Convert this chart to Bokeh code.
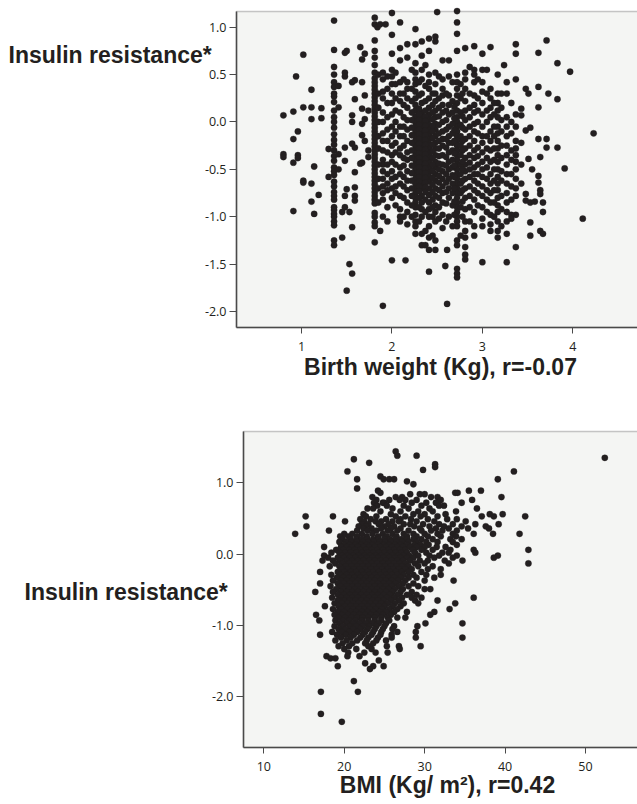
from bokeh.plotting import figure
from bokeh.models import (Range1d, FixedTicker, NumeralTickFormatter, Label, BoxAnnotation)
from bokeh.embed import file_html
from bokeh.resources import INLINE

# ---------------- data: top panel (birth weight columns, kg) ----------------
bw_cols = [0.80, 0.91, 0.94, 0.96, 1.02, 1.11, 1.14, 1.19, 1.22, 1.30,
           1.36, 1.41, 1.45, 1.48, 1.50, 1.53, 1.56, 1.59, 1.65, 1.67,
           1.70, 1.74, 1.81, 1.84, 1.87, 1.90, 1.93, 2.00, 2.09, 2.15,
           2.17, 2.26, 2.33, 2.41, 2.48, 2.50, 2.56, 2.59, 2.61, 2.63,
           2.72, 2.81, 2.91, 3.00, 3.09, 3.17, 3.24, 3.27, 3.37, 3.43,
           3.48, 3.51, 3.53, 3.55, 3.58, 3.62, 3.64, 3.67, 3.71, 3.73,
           3.83, 3.91, 3.97, 4.11, 4.23]
ir_cols = [
    [0.07, -0.34, -0.37],
    [0.11, -0.18, -0.43, -0.94],
    [0.48],
    [-0.10, -0.35, -0.38],
    [0.71, 0.155, -0.62, -0.64],
    [0.34, 0.155, 0.03, -0.65, -0.84],
    [-0.47, -0.97],
    [-0.77],
    [0.145, 0.04],
    [-0.285, -0.58],
    [1.07, 0.76, 0.58, 0.50, 0.42, 0.37, 0.30, 0.27, 0.21, 0.12, 0.05, 0.0, -0.06, -0.13, -0.19, -0.24,
     -0.30, -0.36, -0.41, -0.48, -0.52, -0.56, -0.63, -0.68, -0.74, -0.78, -0.82, -0.90, -0.93, -0.97,
     -1.00, -1.05, -1.09, -1.25, -1.30],
    [0.38, 0.155, -0.34, -0.50],
    [-0.95, -1.22],
    [0.73, 0.52, 0.48, -0.27, -0.41, -0.78, -0.90],
    [0.75, -0.71, -1.78],
    [-1.50, -0.95],
    [0.42, 0.07, 0.0, -0.23, -1.11, -1.60],
    [0.44, 0.24, -0.27, -0.53, -0.69, -0.78, -0.83],
    [0.79, -0.44],
    [0.66, 0.42, 0.14, -0.02, -0.14, -0.43],
    [0.72, 0.28, 0.03, -0.20],
    [-0.30, -0.37, 0.12],
    [1.10, 1.03, 0.86, 0.75, 0.68, 0.60, 0.52, 0.46, 0.42, 0.38, 0.34, 0.30, 0.26, 0.22, 0.18, 0.14,
     0.10, 0.06, 0.02, -0.02, -0.06, -0.10, -0.14, -0.18, -0.22, -0.26, -0.30, -0.34, -0.38, -0.42,
     -0.46, -0.50, -0.54, -0.58, -0.62, -0.66, -0.70, -0.74, -0.78, -0.82, -0.86, -0.96, -1.00, -1.06,
     -1.10, -1.27],
    [1.00],
    [1.03, -1.15],
    [0.52, 0.45, 0.32, 0.25, 0.10, 0.0, -0.12, -0.20, -0.30, -0.40, -0.45, -0.52, -0.60, -0.68, -0.75,
     -0.82, -1.00, -1.94],
    [1.03],
    [1.15, 0.92, 0.72, 0.55, 0.48, 0.40, 0.30, 0.20, 0.08, -0.05, -0.15, -0.25, -0.35, -0.42, -0.52,
     -0.60, -0.70, -0.80, -1.46],
    [1.05, 0.78, 0.65, 0.42, 0.30, 0.22, 0.10, -0.05, -0.15, -0.28, -0.35, -0.48, -0.55, -0.65, -0.78,
     -0.92, -1.00, -1.05],
    [-1.46],
    [0.82, 0.68, 0.42, 0.35, 0.25, 0.15, 0.02, -0.08, -0.20, -0.32, -0.40, -0.52, -0.62, -0.72, -0.85,
     -0.95, -1.08],
    [0.98, 0.82, 0.62, 0.52, 0.45, 0.40, 0.32, 0.25, 0.18, 0.12, 0.06, 0.0, -0.05, -0.10, -0.15, -0.20,
     -0.25, -0.30, -0.35, -0.40, -0.45, -0.50, -0.55, -0.60, -0.65, -0.70, -0.75, -0.80, -0.85, -0.90,
     -0.98, -1.05, -1.10, -1.18],
    [0.85, 0.70, 0.55, 0.45, 0.30, 0.20, 0.10, 0.05, 0.0, -0.05, -0.10, -0.15, -0.20, -0.25, -0.30,
     -0.35, -0.40, -0.45, -0.50, -0.55, -0.60, -0.65, -0.70, -0.78, -0.85, -0.92, -1.00, -1.18, -1.30],
    [0.88, 0.75, 0.50, 0.42, 0.35, 0.25, 0.15, 0.08, 0.03, -0.03, -0.08, -0.13, -0.18, -0.23, -0.28,
     -0.33, -0.38, -0.43, -0.48, -0.53, -0.58, -0.63, -0.70, -0.77, -0.85, -0.92, -1.00, -1.10, -1.22,
     -1.35, -1.58],
    [0.90, 0.85, 0.52, 0.40, 0.30, 0.22, 0.12, 0.05, -0.02, -0.08, -0.15, -0.22, -0.28, -0.35, -0.42,
     -0.48, -0.55, -0.62, -0.70, -0.78, -0.88, -0.95, -1.05, -1.25, -1.35],
    [1.16],
    [0.65, 0.45, 0.35, 0.28, 0.18, 0.10, 0.0, -0.10, -0.18, -0.25, -0.35, -0.45, -0.52, -0.60, -0.68,
     -0.75, -0.85, -0.98, -1.12],
    [-1.52],
    [-1.92, -1.35],
    [0.65, 0.48, 0.28, 0.18, 0.08, -0.05, -0.15, -0.22, -0.32, -0.42, -0.50, -0.60, -0.70, -0.80, -1.00],
    [1.17, 1.05, 0.93, 0.75, 0.50, 0.42, 0.35, 0.28, 0.20, 0.12, 0.05, 0.0, -0.05, -0.10, -0.15, -0.20,
     -0.25, -0.30, -0.35, -0.40, -0.45, -0.50, -0.55, -0.60, -0.65, -0.70, -0.75, -0.80, -0.85, -0.90,
     -0.95, -1.00, -1.05, -1.10, -1.25, -1.30, -1.55, -1.60, -1.64],
    [0.78, 0.52, 0.45, 0.35, 0.22, 0.12, 0.02, -0.08, -0.18, -0.28, -0.38, -0.45, -0.52, -0.60, -0.70,
     -0.80, -0.92, -1.05, -1.15, -1.22, -1.32, -1.40, -1.45],
    [0.80, 0.55, 0.50, 0.42, 0.28, 0.18, 0.10, -0.02, -0.10, -0.20, -0.30, -0.38, -0.48, -0.55, -0.62,
     -0.72, -0.82, -0.95, -1.10, -1.20],
    [0.72, 0.55, 0.42, 0.32, 0.20, 0.08, -0.05, -0.15, -0.22, -0.32, -0.42, -0.50, -0.58, -0.68, -0.78,
     -0.90, -1.02, -1.10, -1.48],
    [0.79, 0.35, 0.25, 0.15, 0.05, -0.10, -0.20, -0.30, -0.42, -0.55, -0.65, -0.75, -0.85, -0.98, -1.08,
     -1.15],
    [0.50, 0.30, 0.20, 0.12, 0.05, -0.05, -0.12, -0.20, -0.28, -0.35, -0.42, -0.50, -0.58, -0.65, -0.72,
     -0.80, -0.88, -0.95, -1.05, -1.15, -1.22],
    [0.60],
    [0.42, 0.30, 0.05, -0.05, -0.15, -0.25, -0.35, -0.45, -0.55, -0.65, -0.75, -0.85, -0.95, -1.05, -1.18,
     -1.48],
    [0.82, 0.72, 0.45, 0.08, -0.05, -0.20, -0.28, -0.35, -0.42, -0.50, -0.60, -0.70, -0.78, -0.98, -1.32],
    [0.14, 0.07, -0.22, -0.45, -0.65],
    [0.35, -0.09, -0.76, -0.83],
    [0.30, -0.39],
    [-0.06, -0.85, -1.06, -1.20],
    [-0.50],
    [-0.84],
    [0.73, 0.37, 0.155, -0.18, -0.57, -0.64],
    [-0.37, -0.72, -0.76, -1.15],
    [-0.85, -0.95, -1.18],
    [0.86, -0.18, -0.27],
    [0.30],
    [0.62, 0.24, -0.27],
    [-0.49],
    [0.53],
    [-1.02],
    [-0.12],
]

# intermediate birth weights filling the dense core
bw_cols_mid = [1.85, 1.95, 2.04, 2.13, 2.22, 2.30, 2.37, 2.45, 2.52, 2.60,
               2.67, 2.76, 2.86, 2.95, 3.05, 3.13, 3.21, 3.32, 2.69, 2.78]
ir_cols_mid = [
    [0.50, 0.30, 0.15, 0.0, -0.15, -0.28, -0.45, -0.60, -0.70, -0.85],
    [0.48, 0.35, 0.20, 0.05, -0.08, -0.20, -0.32, -0.45, -0.55, -0.65, -0.72, -0.90, -1.05],
    [0.52, 0.40, 0.25, 0.12, 0.0, -0.10, -0.22, -0.32, -0.45, -0.58, -0.68, -0.75, -0.88],
    [0.45, 0.30, 0.18, 0.05, -0.05, -0.15, -0.25, -0.38, -0.46, -0.58, -0.68, -0.80, -1.00],
    [0.55, 0.35, 0.22, 0.10, 0.02, -0.06, -0.14, -0.22, -0.30, -0.38, -0.46, -0.54, -0.62, -0.70, -0.78,
     -0.88, -1.00],
    [0.42, 0.28, 0.14, 0.08, 0.02, -0.03, -0.08, -0.13, -0.18, -0.23, -0.28, -0.33, -0.38, -0.43, -0.48,
     -0.53, -0.58, -0.63, -0.68, -0.73, -0.80, -0.90, -1.05],
    [0.60, 0.38, 0.22, 0.12, 0.06, 0.01, -0.04, -0.09, -0.14, -0.19, -0.24, -0.29, -0.34, -0.39, -0.44,
     -0.49, -0.54, -0.59, -0.64, -0.69, -0.74, -0.82, -0.95, -1.15, -1.30],
    [0.30, 0.18, 0.10, 0.03, -0.04, -0.10, -0.17, -0.24, -0.31, -0.38, -0.45, -0.52, -0.59, -0.66, -0.74,
     -0.82, -0.90, -1.00, -1.20],
    [0.48, 0.25, 0.15, 0.06, -0.03, -0.12, -0.20, -0.28, -0.36, -0.44, -0.50, -0.57, -0.64, -0.72, -0.80,
     -0.90, -1.02],
    [0.30, 0.12, 0.02, -0.08, -0.18, -0.27, -0.37, -0.46, -0.55, -0.64, -0.74, -0.86, -1.05],
    [0.42, 0.22, 0.10, -0.02, -0.12, -0.22, -0.30, -0.40, -0.48, -0.56, -0.65, -0.75, -0.88, -1.10],
    [0.40, 0.25, 0.10, -0.03, -0.15, -0.25, -0.35, -0.45, -0.55, -0.65, -0.75, -0.90, -1.20],
    [0.58, 0.30, 0.15, 0.05, -0.05, -0.15, -0.25, -0.35, -0.43, -0.50, -0.58, -0.68, -0.78, -0.90, -1.05],
    [0.45, 0.25, 0.12, 0.0, -0.12, -0.27, -0.36, -0.45, -0.55, -0.65, -0.75, -0.88],
    [0.55, 0.30, 0.12, 0.0, -0.15, -0.28, -0.38, -0.48, -0.60, -0.72, -0.82, -0.95],
    [0.20, 0.08, -0.05, -0.15, -0.28, -0.40, -0.50, -0.62, -0.72, -0.85, -1.00],
    [0.30, 0.15, 0.02, -0.10, -0.25, -0.38, -0.52, -0.62, -0.78, -0.92, -1.10],
    [0.20, 0.0, -0.12, -0.30, -0.40, -0.55, -0.68, -0.82, -0.98, -1.02],
    [0.16, 0.04, -0.08, -0.20, -0.33, -0.46, -0.58, -0.70, -0.84, -0.98],
    [0.30, 0.06, -0.06, -0.20, -0.30, -0.42, -0.50, -0.62, -0.72, -0.84, -1.00],
]

# ---------------- data: bottom panel (rows of BMI at given insulin resistance) ----------------
ir_rows = [1.44, 1.38, 1.35, 1.33, 1.28, 1.26, 1.22, 1.18, 1.16, 1.09, 1.05, 1.02, 0.98, 0.92, 0.89,
           0.86, 0.84, 0.80, 0.76, 0.72, 0.68, 0.64, 0.60, 0.56, 0.53, 0.49, 0.46, 0.42, 0.39, 0.36,
           0.33, 0.285, 0.25, 0.21, 0.17, 0.13, 0.10, 0.06, 0.02, -0.02, -0.05, -0.09, -0.13, -0.17,
           -0.21, -0.25, -0.29, -0.33, -0.37, -0.41, -0.45, -0.49, -0.53, -0.57, -0.61, -0.65, -0.69,
           -0.73, -0.77, -0.81, -0.85, -0.89, -0.93, -0.97, -1.01, -1.05, -1.09, -1.13, -1.17, -1.21,
           -1.25, -1.29, -1.33, -1.38, -1.43, -1.46, -1.49, -1.53, -1.57, -1.61, -1.78, -1.93, -2.24,
           -2.35]
bmi_rows = [
    [26.4],
    [26.6, 29.0],
    [52.4],
    [21.2],
    [23.1],
    [31.3],
    [31.3],
    [29.8],
    [20.4, 41.1],
    [24.5],
    [21.6, 24.9, 25.6, 26.2, 39.1],
    [27.8],
    [28.6],
    [21.6],
    [24.2, 35.5, 37.0],
    [24.5, 33.8, 34.1],
    [28.2, 29.4, 30.0],
    [23.5, 26.4, 27.2, 30.8, 31.6, 39.55],
    [24.0, 25.6, 26.9, 27.6, 29.0, 32.0, 35.9],
    [23.7, 24.8, 25.0, 28.4, 30.2, 31.4, 34.6],
    [24.1, 25.3, 27.4, 29.6, 31.8, 32.4],
    [22.9, 23.6, 26.0, 28.0, 30.6, 36.5],
    [24.5, 27.0, 29.2, 31.0, 33.9],
    [22.4, 25.8, 28.6, 30.0, 32.6, 38.1, 39.7],
    [15.2, 18.6, 22.7, 24.0, 26.4, 27.6, 29.5, 31.6, 37.1, 38.6, 42.5],
    [22.0, 23.3, 25.2, 27.0, 28.3, 30.4, 32.8, 34.0],
    [20.1, 22.5, 23.9, 24.6, 26.0, 26.8, 29.0, 31.2, 35.1],
    [22.2, 23.0, 24.3, 25.5, 27.4, 28.2, 29.8, 31.8, 33.5, 36.3, 39.2],
    [15.3, 21.8, 22.7, 25.0, 26.2, 28.7, 30.6, 32.4, 34.6, 37.6],
    [22.4, 23.4, 24.6, 25.8, 27.0, 29.4, 31.4, 33.0, 35.4, 38.0],
    [18.1, 21.6, 22.9, 24.0, 25.4, 26.6, 28.0, 29.6, 30.8, 32.2, 34.0],
    [13.9, 20.0, 21.0, 22.2, 23.5, 24.8, 26.0, 27.4, 28.6, 30.0, 31.6, 33.5, 36.1, 38.5, 41.8],
    [19.5, 20.5, 21.6, 22.8, 24.2, 25.3, 26.5, 27.8, 29.0, 30.4, 32.0, 33.9],
    [19.8, 20.8, 21.5, 22.2, 22.9, 23.6, 24.3, 25.0, 25.7, 26.4, 27.1, 27.8, 28.6, 29.6, 31.0, 33.2, 34.6],
    [19.4, 20.2, 20.9, 21.6, 22.3, 23.0, 23.7, 24.4, 25.1, 25.8, 26.5, 27.2, 28.0, 29.0, 30.2, 31.6, 33.5],
    [20.0, 20.7, 21.4, 22.1, 22.8, 23.5, 24.2, 24.9, 25.6, 26.3, 27.0, 27.8, 28.7, 29.5, 30.5, 34.0],
    [17.5, 19.6, 20.3, 21.0, 21.7, 22.4, 23.1, 23.8, 24.5, 25.2, 25.9, 26.6, 27.3, 28.2, 29.0, 30.0, 31.5,
     32.6],
    [19.0, 19.9, 20.6, 21.3, 22.0, 22.7, 23.4, 24.1, 24.8, 25.5, 26.2, 26.9, 27.6, 28.5, 29.6, 31.0, 33.2,
     36.1, 42.9],
    [18.4, 19.4, 20.1, 20.8, 21.5, 22.2, 22.9, 23.6, 24.3, 25.0, 25.7, 26.4, 27.1, 27.8, 28.8, 30.2, 32.2,
     33.0, 36.3],
    [17.5, 19.7, 20.4, 21.1, 21.8, 22.5, 23.2, 23.9, 24.6, 25.3, 26.0, 26.7, 27.4, 28.1, 29.2, 30.6, 31.8,
     34.0, 39.1],
    [18.0, 19.2, 20.0, 20.7, 21.4, 22.1, 22.8, 23.5, 24.2, 24.9, 25.6, 26.3, 27.0, 27.8, 28.6, 31.2, 33.5,
     38.6],
    [17.3, 18.6, 19.5, 20.3, 21.0, 21.7, 22.4, 23.1, 23.8, 24.5, 25.2, 25.9, 26.6, 27.3, 28.2, 29.4, 30.4,
     32.5, 34.7],
    [18.9, 19.8, 20.6, 21.3, 22.0, 22.7, 23.4, 24.1, 24.8, 25.5, 26.2, 26.9, 27.6, 28.8, 30.0, 33.0, 42.9],
    [18.2, 19.4, 20.2, 20.9, 21.6, 22.3, 23.0, 23.7, 24.4, 25.1, 25.8, 26.5, 27.2, 28.0, 29.2, 31.0],
    [19.7, 20.5, 21.2, 21.9, 22.6, 23.3, 24.0, 24.7, 25.4, 26.1, 26.8, 27.6, 28.4, 30.4, 32.0],
    [17.0, 19.2, 20.0, 20.8, 21.5, 22.2, 22.9, 23.6, 24.3, 25.0, 25.7, 26.4, 27.1, 28.0, 29.6],
    [18.4, 19.5, 20.3, 21.0, 21.7, 22.4, 23.1, 23.8, 24.5, 25.2, 25.9, 26.6, 27.4, 28.6, 30.2, 32.0],
    [19.1, 19.9, 20.6, 21.3, 22.0, 22.7, 23.4, 24.1, 24.8, 25.5, 26.2, 27.0, 28.0, 29.0, 31.2],
    [18.6, 19.6, 20.3, 21.0, 21.7, 22.4, 23.1, 23.8, 24.5, 25.2, 25.9, 26.7, 27.6, 30.0, 33.6],
    [17.0, 19.2, 20.0, 20.7, 21.4, 22.1, 22.8, 23.5, 24.2, 24.9, 25.6, 26.4, 27.3, 28.6],
    [18.3, 19.5, 20.3, 21.0, 21.7, 22.4, 23.1, 23.8, 24.5, 25.2, 25.9, 26.8, 28.0, 29.2],
    [19.0, 19.9, 20.6, 21.3, 22.0, 22.7, 23.4, 24.1, 24.8, 25.5, 26.3, 27.3, 30.0, 30.7],
    [16.4, 18.6, 19.6, 20.3, 21.0, 21.7, 22.4, 23.1, 23.8, 24.5, 25.2, 26.0, 27.0, 28.4],
    [19.2, 20.0, 20.7, 21.4, 22.1, 22.8, 23.5, 24.2, 24.9, 25.7, 26.6, 27.8, 29.0],
    [18.5, 19.6, 20.3, 21.0, 21.7, 22.4, 23.1, 23.8, 24.5, 25.3, 26.2, 27.2, 28.4, 29.6, 36.1],
    [19.2, 20.0, 20.7, 21.4, 22.1, 22.8, 23.5, 24.2, 24.9, 25.8, 26.8, 28.8, 31.6],
    [18.8, 19.7, 20.4, 21.1, 21.8, 22.5, 23.2, 23.9, 24.6, 25.4, 26.3, 27.4, 29.2, 33.8],
    [17.6, 19.3, 20.1, 20.8, 21.5, 22.2, 22.9, 23.6, 24.3, 25.0, 26.0, 27.0],
    [18.6, 19.6, 20.4, 21.1, 21.8, 22.5, 23.2, 23.9, 24.7, 25.6, 26.6, 33.1],
    [19.2, 20.0, 20.8, 21.5, 22.2, 22.9, 23.6, 24.4, 25.2, 26.2, 27.8, 31.2],
    [16.5, 18.8, 19.7, 20.5, 21.2, 21.9, 22.6, 23.3, 24.0, 24.8, 25.8, 30.7],
    [19.3, 20.1, 20.9, 21.6, 22.3, 23.0, 23.8, 24.6, 25.4, 26.6, 27.6],
    [16.9, 18.9, 19.8, 20.6, 21.4, 22.2, 23.0, 23.8, 24.6, 25.6],
    [19.4, 20.3, 21.1, 21.9, 22.7, 23.5, 24.3, 25.2, 30.1, 34.7],
    [18.8, 19.8, 20.7, 21.5, 22.3, 23.1, 24.0, 25.0, 26.2, 29.1],
    [19.3, 20.2, 21.1, 22.0, 22.9, 23.8, 24.8, 26.0],
    [18.5, 19.7, 20.6, 21.6, 22.6, 23.6, 24.6, 26.6, 28.9],
    [17.0, 19.1, 20.2, 21.2, 22.3, 23.4, 24.5, 25.9],
    [19.6, 20.8, 22.0, 23.0, 24.2, 25.9, 28.9, 34.7],
    [18.9, 20.3, 21.6, 22.8, 24.0, 25.2],
    [19.8, 21.0, 22.6, 23.6],
    [19.3, 20.6, 23.0, 25.3, 26.8, 29.5],
    [20.0, 21.5, 23.4, 26.9],
    [20.5, 22.5, 23.9, 25.4],
    [17.8, 20.4, 21.9],
    [18.3, 18.9],
    [24.3],
    [22.6],
    [19.2, 23.6, 24.9],
    [23.2],
    [21.2],
    [17.1, 21.7],
    [17.1],
    [19.7],
]

top_x_ticks = [1, 2, 3, 4]
top_y_ticks = [1.0, 0.5, 0.0, -0.5, -1.0, -1.5, -2.0]
bot_x_ticks = [10, 20, 30, 40, 50]
bot_y_ticks = [1.0, 0.0, -1.0, -2.0]

y_title = "Insulin resistance*"
top_x_title = "Birth weight (Kg), r=-0.07"
bot_x_title = "BMI (Kg/ m\u00b2), r=0.42"

INK = "#231f20"
AXIS = "#4a4a4a"
BG = "#f4f5f3"
TICK_FONT = "Open Sans"
TITLE_FONT = "Liberation Sans"

# flatten
top_x, top_y = [], []
for xv, col in list(zip(bw_cols, ir_cols)) + list(zip(bw_cols_mid, ir_cols_mid)):
    top_x += [xv] * len(col)
    top_y += col
bot_x, bot_y = [], []
for yv, row in zip(ir_rows, bmi_rows):
    bot_x += row
    bot_y += [yv] * len(row)


class Geo:
    """Maps canvas pixels to data values for one panel (linear axes)."""
    def __init__(self, x_a, px_a, x_b, px_b, y_a, py_a, y_b, py_b):
        self.kx = (x_b - x_a) / (px_b - px_a)
        self.x0 = x_a - px_a * self.kx
        self.ky = (y_b - y_a) / (py_b - py_a)
        self.y0 = y_a - py_a * self.ky

    def x(self, px):
        return self.x0 + px * self.kx

    def y(self, py):
        return self.y0 + py * self.ky


def style_axis(ax, ticks, tick_out, standoff):
    ax.ticker = FixedTicker(ticks=ticks)
    ax.axis_line_color = AXIS
    ax.axis_line_width = 1.5
    ax.major_tick_line_color = AXIS
    ax.major_tick_line_width = 1
    ax.major_tick_in = 0
    ax.major_tick_out = tick_out
    ax.minor_tick_line_color = None
    ax.major_label_text_font = TICK_FONT
    ax.major_label_text_font_size = "12.5px"
    ax.major_label_text_color = INK
    ax.major_label_standoff = standoff


def make_panel(x, y, g, h, frame_px, xticks, yticks, x_title, x_title_px, y_title_px):
    left, top, bottom = frame_px
    p = figure(width=637, height=h, x_range=Range1d(g.x(0), g.x(637)),
               y_range=Range1d(g.y(h), g.y(0)),
               output_backend="svg", toolbar_location=None,
               min_border_left=0, min_border_right=0, min_border_top=0, min_border_bottom=0)
    p.background_fill_color = "white"
    p.border_fill_color = "white"
    p.outline_line_color = None
    p.grid.visible = False

    # shaded plot area with its top border (left / bottom edges are the axes)
    p.add_layout(BoxAnnotation(left=g.x(left), right=g.x(700), bottom=g.y(bottom), top=g.y(top),
                               fill_color=BG, fill_alpha=1, line_color=AXIS, line_width=1.5,
                               level="underlay"))

    xa, ya = p.xaxis[0], p.yaxis[0]
    style_axis(xa, xticks, 6, 8)
    style_axis(ya, yticks, 7, 3)
    ya.formatter = NumeralTickFormatter(format="0.0")
    xa.formatter = NumeralTickFormatter(format="0")
    xa.fixed_location = g.y(bottom)
    ya.fixed_location = g.x(left)
    xa.bounds = (g.x(left), g.x(700))
    ya.bounds = (g.y(bottom), g.y(top))

    p.scatter(x, y, size=6.3, fill_color=INK, line_color=INK, line_width=0.3)

    p.add_layout(Label(x=g.x(x_title_px[0]), y=g.y(x_title_px[1]), text=x_title,
                       text_font=TITLE_FONT, text_font_style="bold", text_font_size="23px",
                       text_color=INK, text_align="center", text_baseline="middle"))
    p.add_layout(Label(x=g.x(y_title_px[0]), y=g.y(y_title_px[1]), text=y_title,
                       text_font=TITLE_FONT, text_font_style="bold", text_font_size="23px",
                       text_color=INK, text_align="left", text_baseline="middle"))
    return p


# top panel: canvas y 0..400 of the page; tick pixels
g1 = Geo(1, 301.0, 4, 572.3, 1.0, 26.7, -2.0, 311.0)
p1 = make_panel(top_x, top_y, g1, 400, (236, 11, 327), top_x_ticks, top_y_ticks,
                top_x_title, (440, 366), (8, 54.5))

# bottom panel: canvas starts at page y 400
g2 = Geo(10, 263.3, 50, 585.0, 1.0, 482.3 - 400, -2.0, 696.3 - 400)
p2 = make_panel(bot_x, bot_y, g2, 400, (243, 431 - 400, 747 - 400), bot_x_ticks, bot_y_ticks,
                bot_x_title, (447, 784 - 400), (24, 591 - 400))

open("out.html", "w").write(file_html([p1, p2], INLINE))
